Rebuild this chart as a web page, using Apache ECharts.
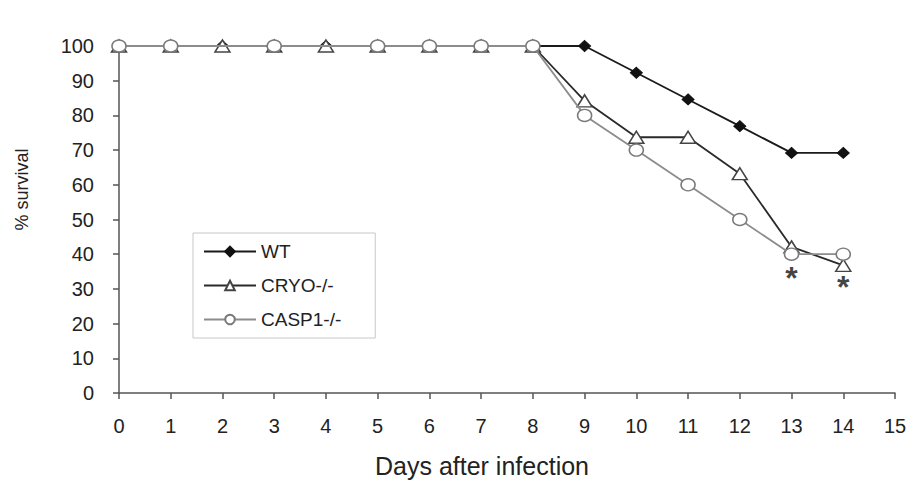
<!DOCTYPE html>
<html>
<head>
<meta charset="utf-8">
<script src="https://cdn.jsdelivr.net/npm/echarts@6/dist/echarts.min.js"></script>
<style>html,body{margin:0;padding:0;background:#fff}#c{width:913px;height:483px}</style>
</head>
<body>
<div id="c"></div>
<script>
const days = [0,1,2,3,4,5,6,7,8,9,10,11,12,13,14];
const wt    = [100,100,100,100,100,100,100,100,100,100,92.3,84.6,76.9,69.2,69.2];
const cryo  = [100,100,100,100,100,100,100,100,100,84.2,73.7,73.7,63.2,42.1,36.8];
const casp1 = [100,100,null,100,null,100,100,100,100,80,70,60,50,40,40];
const starDays = [13,14];
const starVals = [33,30.5];
const xTicks = [0,15,1];
const yTicks = [0,100,10];

const pair = (xs, ys) => xs.map((x,i)=>[x, ys[i]]);
const font = 'Liberation Sans, Arial, sans-serif';
const chart = echarts.init(document.getElementById('c'), null, {renderer:'svg'});
chart.setOption({
  backgroundColor:'#fff',
  animation:false,
  grid:{left:119, right:18, top:46, bottom:89},
  legend:{
    orient:'vertical', left:193, top:233,
    padding:[9,34,9,10], itemGap:15, itemWidth:52, itemHeight:12,
    borderColor:'#c8c8c8', borderWidth:1,
    textStyle:{fontFamily:font, fontSize:19, color:'#222'},
    data:['WT','CRYO-/-','CASP1-/-']
  },
  xAxis:{
    type:'value', min:xTicks[0], max:xTicks[1], interval:xTicks[2],
    name:'Days after infection', nameLocation:'middle', nameGap:60,
    nameTextStyle:{fontFamily:font, fontSize:25, color:'#222', padding:[0,50,0,0]},
    axisLine:{lineStyle:{color:'#555', width:1.5}},
    axisTick:{show:true, length:6, lineStyle:{color:'#555', width:1.5}},
    axisLabel:{fontFamily:font, fontSize:20, color:'#222', margin:23},
    splitLine:{show:false}
  },
  yAxis:{
    type:'value', min:yTicks[0], max:yTicks[1], interval:yTicks[2],
    name:'% survival', nameLocation:'middle', nameGap:88, nameRotate:90,
    nameTextStyle:{fontFamily:font, fontSize:18, color:'#222', padding:[0,0,0,60]},
    axisLine:{show:true, lineStyle:{color:'#555', width:1.5}},
    axisTick:{show:true, length:6, lineStyle:{color:'#555', width:1.5}},
    axisLabel:{fontFamily:font, fontSize:20, color:'#222', margin:25},
    splitLine:{show:false}
  },
  series:[
    {
      name:'WT', type:'line', data:pair(days,wt), z:3,
      symbol:'diamond', symbolSize:[12,11],
      lineStyle:{color:'#1a1a1a', width:1.8},
      itemStyle:{color:'#111', borderColor:'#111', borderWidth:1}
    },
    {
      name:'CRYO-/-', type:'line', data:pair(days,cryo), z:4,
      symbol:'triangle', symbolSize:[15,12],
      lineStyle:{color:'#2a2a2a', width:1.8},
      itemStyle:{color:'#fff', borderColor:'#444', borderWidth:1.5}
    },
    {
      name:'CASP1-/-', type:'line', data:pair(days,casp1), z:5, connectNulls:true,
      symbol:'circle', symbolSize:[14,12],
      lineStyle:{color:'#8c8c8c', width:1.8},
      itemStyle:{color:'#fff', borderColor:'#7a7a7a', borderWidth:1.5}
    },
    {
      name:'sig', type:'scatter', data:pair(starDays,starVals), z:6,
      symbol:'circle', symbolSize:1, silent:true,
      itemStyle:{color:'rgba(0,0,0,0)'},
      label:{show:true, formatter:'*', position:'inside',
        fontFamily:font, fontSize:32, fontWeight:'bold', color:'#111'}
    }
  ]
});
</script>
</body>
</html>
